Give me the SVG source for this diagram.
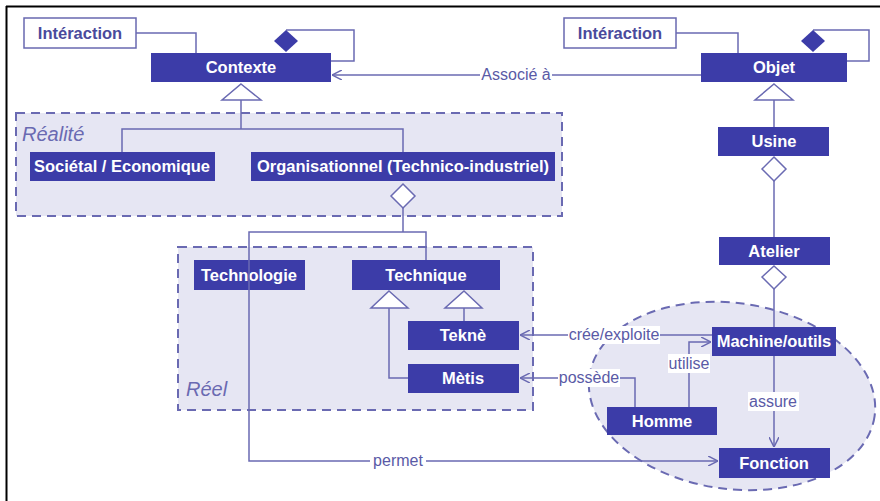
<svg xmlns="http://www.w3.org/2000/svg" width="880" height="501" viewBox="0 0 880 501">
<defs>
<style>
.n rect{fill:#3c3ca8}
.n text{fill:#fff;font-family:"Liberation Sans",Arial,sans-serif;font-weight:bold;font-size:16.5px;text-anchor:middle}
.w rect{fill:#fff;stroke:#6868b0;stroke-width:1.5}
.w text{fill:#4a4a9c;font-family:"Liberation Sans",Arial,sans-serif;font-weight:bold;font-size:16.5px;text-anchor:middle}
.c path,.c line,.c polyline{fill:none;stroke:#6a6ab2;stroke-width:1.5}
.c .tri{fill:#fff;stroke:#6a6ab2;stroke-width:1.5}
.c .od{fill:#fff;stroke:#6a6ab2;stroke-width:1.5}
.c .fd{fill:#3c3ca8;stroke:none}
.lb rect{fill:#fff}
.lb text{fill:#5a5aa6;font-family:"Liberation Sans",Arial,sans-serif;font-size:16px;text-anchor:middle}
.grp{fill:#e6e6f3;stroke:#6a6ab2;stroke-width:2;stroke-dasharray:9,6}
.gt{fill:#6a6ab2;font-family:"Liberation Sans",Arial,sans-serif;font-style:italic;font-size:20px}
</style>
<marker id="arr" viewBox="0 0 10 10" refX="10" refY="5" markerWidth="10" markerHeight="10" markerUnits="userSpaceOnUse" orient="auto">
<path d="M0,0 L10,5 L0,10" fill="none" stroke="#6a6ab2" stroke-width="1.5"/>
</marker>
</defs>
<rect x="0" y="0" width="880" height="501" fill="#fff"/>
<line x1="6" y1="6.5" x2="880" y2="6.5" stroke="#000" stroke-width="2"/>
<line x1="6.5" y1="6" x2="6.5" y2="501" stroke="#000" stroke-width="2"/>

<g id="groups">
<rect class="grp" x="16" y="113" width="546" height="103"/>
<text class="gt" x="22" y="141">Réalité</text>
<rect class="grp" x="178" y="247" width="355" height="163"/>
<text class="gt" x="186" y="396">Réel</text>
<ellipse class="grp" cx="732" cy="396" rx="144" ry="93" transform="rotate(8 732 396)"/>
</g>

<g id="interaction1" class="w"><rect x="24" y="18" width="112" height="30"/><text x="80" y="39">Intéraction</text></g>
<g id="interaction2" class="w"><rect x="564" y="18" width="112" height="30"/><text x="620" y="39">Intéraction</text></g>
<g id="contexte" class="n"><rect x="151" y="53" width="180" height="29"/><text x="241" y="73">Contexte</text></g>
<g id="objet" class="n"><rect x="701" y="53" width="146" height="29"/><text x="774" y="73">Objet</text></g>
<g id="societal" class="n"><rect x="30" y="152" width="185" height="29"/><text x="122" y="172">Sociétal / Economique</text></g>
<g id="organisationnel" class="n"><rect x="251" y="152" width="304" height="29"/><text x="403" y="172">Organisationnel (Technico-industriel)</text></g>
<g id="usine" class="n"><rect x="718" y="127" width="111" height="29"/><text x="774" y="147">Usine</text></g>
<g id="atelier" class="n"><rect x="719" y="237" width="111" height="28"/><text x="774" y="257">Atelier</text></g>
<g id="technologie" class="n"><rect x="194" y="260" width="111" height="30"/><text x="249" y="281">Technologie</text></g>
<g id="technique" class="n"><rect x="352" y="260" width="148" height="30"/><text x="426" y="281">Technique</text></g>
<g id="tekne" class="n"><rect x="408" y="321" width="111" height="29"/><text x="463" y="341">Teknè</text></g>
<g id="metis" class="n"><rect x="408" y="364" width="111" height="29"/><text x="463" y="384">Mètis</text></g>
<g id="machine" class="n"><rect x="712" y="327" width="124" height="29"/><text x="774" y="347">Machine/outils</text></g>
<g id="homme" class="n"><rect x="607" y="407" width="110" height="28"/><text x="662" y="427">Homme</text></g>
<g id="fonction" class="n"><rect x="719" y="448" width="111" height="30"/><text x="774" y="469">Fonction</text></g>

<g id="connectors" class="c">
<polyline points="136,33 196,33 196,53"/>
<polyline points="676,33 738,33 738,53"/>
<polyline points="286,30 354,30 354,61 331,61"/>
<polygon class="fd" points="286,30 298,41 286,52 274,41"/>
<polyline points="813,30 869,30 869,61 847,61"/>
<polygon class="fd" points="813,30 825,41 813,52 801,41"/>
<line x1="701" y1="75" x2="332" y2="75" marker-end="url(#arr)"/>
<polyline points="241,100 241,129"/>
<polyline points="122,152 122,129 403,129 403,152"/>
<polygon class="tri" points="241,84 261,100 222,100"/>
<line x1="774" y1="100" x2="774" y2="127"/>
<polygon class="tri" points="774,84 793,100 755,100"/>
<line x1="774" y1="180" x2="774" y2="237"/>
<polygon class="od" points="774,157 786,169 774,181 762,169"/>
<line x1="774" y1="289" x2="774" y2="327"/>
<polygon class="od" points="774,266 786,277 774,289 762,277"/>
<line x1="403" y1="207" x2="403" y2="232"/>
<polygon class="od" points="403,184 415,196 403,208 391,196"/>
<polyline points="426,260 426,232 249,232 249,461 718,461" marker-end="url(#arr)"/>
<polyline points="389,308 389,378 408,378"/>
<polygon class="tri" points="389,291 408,308 371,308"/>
<line x1="464" y1="308" x2="464" y2="321"/>
<polygon class="tri" points="464,291 482,308 445,308"/>
<line x1="712" y1="335" x2="520" y2="335" marker-end="url(#arr)"/>
<polyline points="635,407 635,378 520,378" marker-end="url(#arr)"/>
<polyline points="689,407 689,342 711,342" marker-end="url(#arr)"/>
<line x1="774" y1="356" x2="774" y2="447" marker-end="url(#arr)"/>
</g>

<g id="labels" class="lb">
<rect x="480" y="66" width="72" height="18"/><text x="516" y="80">Associé à</text>
<rect x="568" y="326" width="92" height="18"/><text x="614" y="340">crée/exploite</text>
<rect x="668" y="354" width="42" height="19"/><text x="689" y="369">utilise</text>
<rect x="558" y="369" width="62" height="18"/><text x="589" y="383">possède</text>
<rect x="748" y="392" width="51" height="19"/><text x="773" y="407">assure</text>
<rect x="370" y="452" width="56" height="18"/><text x="398" y="466">permet</text>
</g>
</svg>
